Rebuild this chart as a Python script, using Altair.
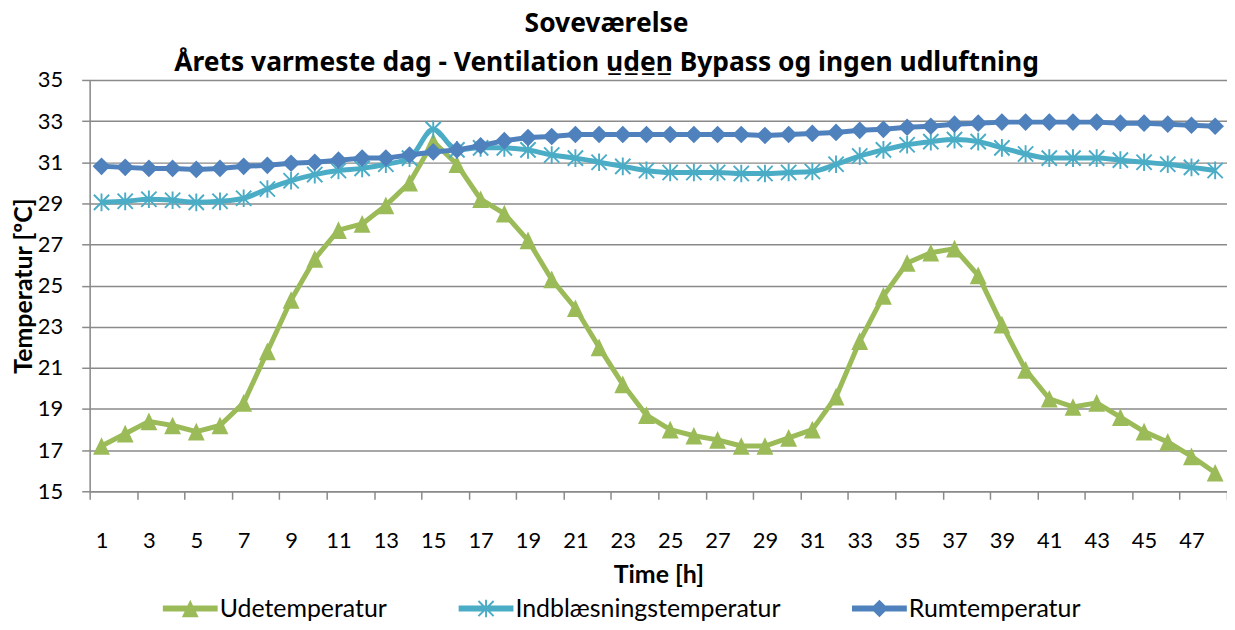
import altair as alt
import pandas as pd

# ---- data ----
hours = list(range(1, 49))
series_names = ["Udetemperatur", "Indblæsningstemperatur", "Rumtemperatur"]
series_colors = ["#9BBB59", "#4BACC6", "#4F81BD"]

ude = [17.2, 17.8, 18.4, 18.2, 17.9, 18.2, 19.3, 21.8, 24.3, 26.3, 27.7, 28.0,
       28.9, 30.0, 32.0, 30.9, 29.2, 28.5, 27.2, 25.3, 23.9, 22.0, 20.2, 18.7,
       18.0, 17.7, 17.5, 17.2, 17.2, 17.6, 18.0, 19.6, 22.3, 24.5, 26.1, 26.6,
       26.8, 25.5, 23.1, 20.9, 19.5, 19.1, 19.3, 18.6, 17.9, 17.4, 16.7, 15.9]
ind = [29.05, 29.1, 29.2, 29.15, 29.05, 29.1, 29.25, 29.7, 30.1, 30.4, 30.6, 30.7,
       30.9, 31.2, 32.6, 31.6, 31.7, 31.7, 31.6, 31.35, 31.2, 31.0, 30.8, 30.6,
       30.5, 30.5, 30.5, 30.45, 30.45, 30.5, 30.55, 30.9, 31.3, 31.6, 31.85, 32.0,
       32.1, 32.0, 31.7, 31.4, 31.2, 31.2, 31.2, 31.1, 31.0, 30.9, 30.75, 30.6]
rum = [30.8, 30.75, 30.7, 30.7, 30.65, 30.7, 30.8, 30.85, 30.95, 31.0, 31.1, 31.2,
       31.2, 31.35, 31.5, 31.6, 31.8, 32.05, 32.2, 32.25, 32.35, 32.35, 32.35, 32.35,
       32.35, 32.35, 32.35, 32.35, 32.3, 32.35, 32.4, 32.45, 32.55, 32.6, 32.7, 32.75,
       32.85, 32.9, 32.95, 32.95, 32.95, 32.95, 32.95, 32.9, 32.9, 32.85, 32.8, 32.75]

y_ticks = list(range(15, 36, 2))
x_label_hours = list(range(1, 48, 2))

# ---- marker shapes (filled paths in the [-1,1] box) ----
TRI = "M0,-1.1L1.05,1.1L-1.05,1.1Z"
DIA = "M0,-1.1L1.1,0L0,1.1L-1.1,0Z"
AST = ("M-0.12,-1.1L0.12,-1.1L0.12,1.1L-0.12,1.1Z"
       "M-0.865,-1.035L1.035,0.865L0.865,1.035L-1.035,-0.865Z"
       "M-1.035,0.865L0.865,-1.035L1.035,-0.865L-0.865,1.035Z")
LINE = "M-3.44,-0.375L3.44,-0.375L3.44,0.375L-3.44,0.375Z"
marker_paths = [TRI, AST, DIA]
legend_paths = [LINE + p for p in marker_paths]

rows = []
for name, vals in zip(series_names, [ude, ind, rum]):
    for h, v in zip(hours, vals):
        rows.append({"Time": h, "Temp": v, "Serie": name})
df = pd.DataFrame(rows)

FONT = "Lato"
TITLE_FONT = "Noto Sans"
GRID = "#8a8a8a"

x_values = []
for h in x_label_hours:
    x_values += [h - 0.5, h]
x_values.append(48.5)

x_enc = alt.X(
    "Time:Q",
    scale=alt.Scale(domain=[0.5, 48.5], nice=False, zero=False),
    axis=alt.Axis(
        values=x_values,
        labelExpr="datum.value % 1 ? '' : datum.label",
        tickOpacity={"condition": {"test": "datum.value % 1", "value": 1}, "value": 0},
        grid=False,
        tickSize=8, tickWidth=1.5, tickColor=GRID,
        domainColor=GRID, domainWidth=1.5,
        labelFont=FONT, labelFontSize=22, labelColor="black",
        labelPadding=31, labelOverlap=False, labelFlush=False,
        title="Time [h]", titleFont=FONT, titleFontSize=25, titleFontWeight="bold",
        titleColor="black", titlePadding=12,
    ),
)
y_enc = alt.Y(
    "Temp:Q",
    scale=alt.Scale(domain=[15, 35], nice=False, zero=False),
    axis=alt.Axis(
        values=y_ticks,
        grid=True, gridColor=GRID, gridWidth=1.5,
        tickSize=8, tickWidth=1.5, tickColor=GRID,
        domainColor=GRID, domainWidth=1.5,
        labelFont=FONT, labelFontSize=22, labelColor="black", labelPadding=19,
        title="Temperatur [ºC]", titleFont=FONT, titleFontSize=25,
        titleFontWeight="bold", titleColor="black", titlePadding=1,
    ),
)

layers = []
for name, color, path in zip(series_names, series_colors, marker_paths):
    sub = df[df["Serie"] == name]
    interp = "monotone" if name == "Indblæsningstemperatur" else "linear"
    base = alt.Chart(sub)
    layers.append(
        base.mark_line(strokeWidth=5, interpolate=interp, strokeJoin="round")
        .encode(x=x_enc, y=y_enc, color=alt.value(color))
    )
    layers.append(
        base.mark_point(filled=True, size=260, opacity=1, strokeWidth=0)
        .encode(x=x_enc, y=y_enc, color=alt.value(color), shape=alt.value(path))
    )

leg = dict(title=None, orient="none", direction="horizontal",
           legendX=69, legendY=518,
           symbolSize=256, symbolStrokeWidth=0,
           symbolOffset=19.5, labelOffset=17, labelLimit=0,
           columnPadding=67,
           labelFont=FONT, labelFontSize=25, labelColor="black")

legend_layer = alt.Chart(df).mark_point(filled=True, size=0, opacity=1, strokeWidth=0).encode(
    x=x_enc, y=y_enc,
    color=alt.Color("Serie:N", scale=alt.Scale(domain=series_names, range=series_colors),
                    legend=alt.Legend(**leg)),
    shape=alt.Shape("Serie:N", scale=alt.Scale(domain=series_names, range=legend_paths),
                    legend=alt.Legend(**leg)),
)
layers.append(legend_layer)

chart = alt.layer(*layers).properties(
    width=1142, height=413,
    autosize=alt.AutoSizeParams(type="none"),
    padding={"left": 82, "top": 71, "right": 0, "bottom": 130},
    title=alt.TitleParams(
        text=["Soveværelse",
              "Årets varmeste dag - Ventilation u\u0332d\u0332e\u0332n\u0332 Bypass og ingen udluftning"],
        font=TITLE_FONT, fontSize=26.5, fontWeight="bold", color="black",
        lineHeight=40, anchor="middle", offset=4, dy=12, dx=-52,
    ),
).configure_view(stroke=None).configure(background="white")

chart.save("out.html", embed_options={"renderer": "svg", "actions": False})
